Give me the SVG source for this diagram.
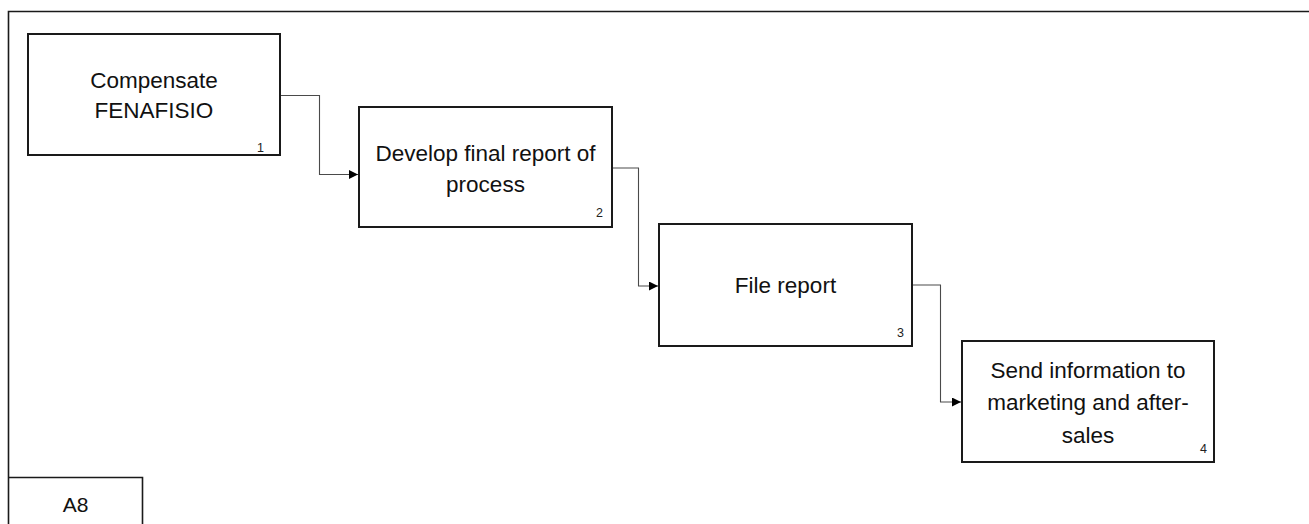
<svg xmlns="http://www.w3.org/2000/svg" width="1309" height="524" viewBox="0 0 1309 524">
  <style>
    .box { fill: #ffffff; stroke: #1a1a1a; stroke-width: 2; }
    .frame { fill: none; stroke: #1a1a1a; stroke-width: 1.6; }
    .label { font-family: "Liberation Sans", Arial, sans-serif; font-size: 22.5px; fill: #111111; text-anchor: middle; }
    .num { font-family: "Liberation Sans", Arial, sans-serif; font-size: 12.5px; fill: #222222; text-anchor: end; }
    .wire { fill: none; stroke: #4a4a4a; stroke-width: 1.1; marker-end: url(#arrow); }
  </style>
  <defs>
    <marker id="arrow" viewBox="0 0 10 10" refX="10" refY="5" markerWidth="10" markerHeight="9" markerUnits="userSpaceOnUse" orient="auto">
      <path d="M0,0 L10,5 L0,10 Z" fill="#000000"/>
    </marker>
  </defs>

  <rect width="1309" height="524" fill="#ffffff"/>

  <!-- diagram frame and node-tree tag -->
  <g id="frame">
    <path class="frame" d="M8.5,530 V11.5 H1320"/>
    <path class="frame" d="M8.5,477.5 H142.5 V530"/>
    <text class="label" x="75.5" y="512" style="font-size:21px">A8</text>
  </g>

  <!-- connectors -->
  <g id="connectors">
    <path class="wire" d="M281,95.5 H319.5 V174.5 H358"/>
    <path class="wire" d="M613,168 H638.5 V286 H658"/>
    <path class="wire" d="M913,285 H940.5 V402 H961"/>
  </g>

  <!-- activity boxes -->
  <g id="node1">
    <rect class="box" x="28" y="34" width="252" height="121"/>
    <text class="label" x="154" y="88">Compensate</text>
    <text class="label" x="154" y="118">FENAFISIO</text>
    <text class="num" x="264" y="152">1</text>
  </g>

  <g id="node2">
    <rect class="box" x="359" y="107" width="253" height="120"/>
    <text class="label" x="485.5" y="161">Develop final report of</text>
    <text class="label" x="485.5" y="191.5">process</text>
    <text class="num" x="603" y="217">2</text>
  </g>

  <g id="node3">
    <rect class="box" x="659" y="224" width="253" height="122"/>
    <text class="label" x="785.5" y="293">File report</text>
    <text class="num" x="904" y="337">3</text>
  </g>

  <g id="node4">
    <rect class="box" x="962" y="341" width="252" height="121"/>
    <text class="label" x="1088" y="378">Send information to</text>
    <text class="label" x="1088" y="410">marketing and after-</text>
    <text class="label" x="1088" y="442.5">sales</text>
    <text class="num" x="1207" y="453">4</text>
  </g>
</svg>
